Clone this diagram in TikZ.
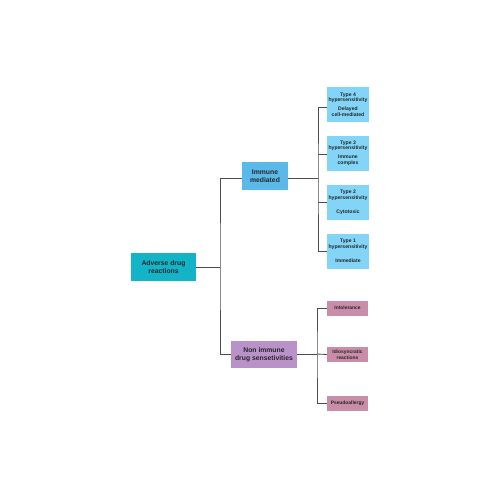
\documentclass[tikz,border=0pt]{standalone}
\usepackage{fontspec}
\setmainfont{Liberation Sans}
\begin{document}
\begin{tikzpicture}[x=1pt,y=-1pt,
  box/.style={draw=none,inner sep=0pt,align=center,text=black!85,font=\bfseries},
  lv1/.style={box,fill=adrcol,minimum width=65pt,minimum height=28pt,font=\bfseries\fontsize{6.8}{8.2}\selectfont},
  imm/.style={box,fill=immcol,minimum width=46pt,minimum height=28pt,font=\bfseries\fontsize{6.8}{8.2}\selectfont},
  non/.style={box,fill=noncol,minimum width=66pt,minimum height=27pt,font=\bfseries\fontsize{6.8}{8.2}\selectfont},
  typ/.style={box,fill=typcol,minimum width=42pt,minimum height=35pt,font=\bfseries\fontsize{5.1}{5.8}\selectfont},
  pnk/.style={box,fill=pnkcol,minimum width=41pt,minimum height=15pt,font=\bfseries\fontsize{4.9}{5.6}\selectfont},
  link/.style={draw=black!70,line width=0.85pt}]
\definecolor{adrcol}{HTML}{14B4C8}
\definecolor{immcol}{HTML}{5BB9E9}
\definecolor{noncol}{HTML}{B992C9}
\definecolor{typcol}{HTML}{82D5F7}
\definecolor{pnkcol}{HTML}{C98CA9}
\useasboundingbox (0,0) rectangle (500,500);
\fill[white] (0,0) rectangle (500,500);
\node[lv1] (adr) at (163.5,267) {Adverse drug\\reactions};
\node[imm] (imm) at (265,176) {Immune\\mediated};
\node[non] (non) at (264,354.5) {Non immune\\drug sensetivities};
\node[typ] (t4) at (348,104.5) {Type 4\\hypersensitivity\\[3pt]Delayed\\cell-mediated};
\node[typ] (t3) at (348,153) {Type 3\\hypersensitivity\\[3pt]Immune\\complex};
\node[typ] (t2) at (348,202.5) {Type 2\\hypersensitivity\\[8pt]Cytotoxic};
\node[typ] (t1) at (348,251) {Type 1\\hypersensitivity\\[8pt]Immediate};
\node[pnk] (p1) at (347.5,308) {Intolerance};
\node[pnk] (p2) at (347.5,354.5) {Idiosyncratic\\reactions};
\node[pnk] (p3) at (347.5,403.5) {Pseudoallergy};
\coordinate (j1) at (220,267);
\coordinate (j2) at (318,178);
\coordinate (j3) at (317,354);
\draw[link] (adr.east) -- (j1);
\draw[link] (imm.west |- 0,178) -| (j1) |- (non.west |- 0,354);
\draw[link] (imm.east |- 0,178) -- (j2);
\draw[link] (t4.west |- 0,107) -| (j2) |- (t1.west |- 0,251);
\draw[link] (j2 |- 0,154) -- (t3.west |- 0,154);
\draw[link] (j2 |- 0,202) -- (t2.west |- 0,202);
\draw[link] (non.east |- 0,354) -- (j3);
\draw[link] (p1.west) -| (j3) |- (p3.west);
\draw[link] (j3) -- (p2.west);
\end{tikzpicture}
\end{document}
